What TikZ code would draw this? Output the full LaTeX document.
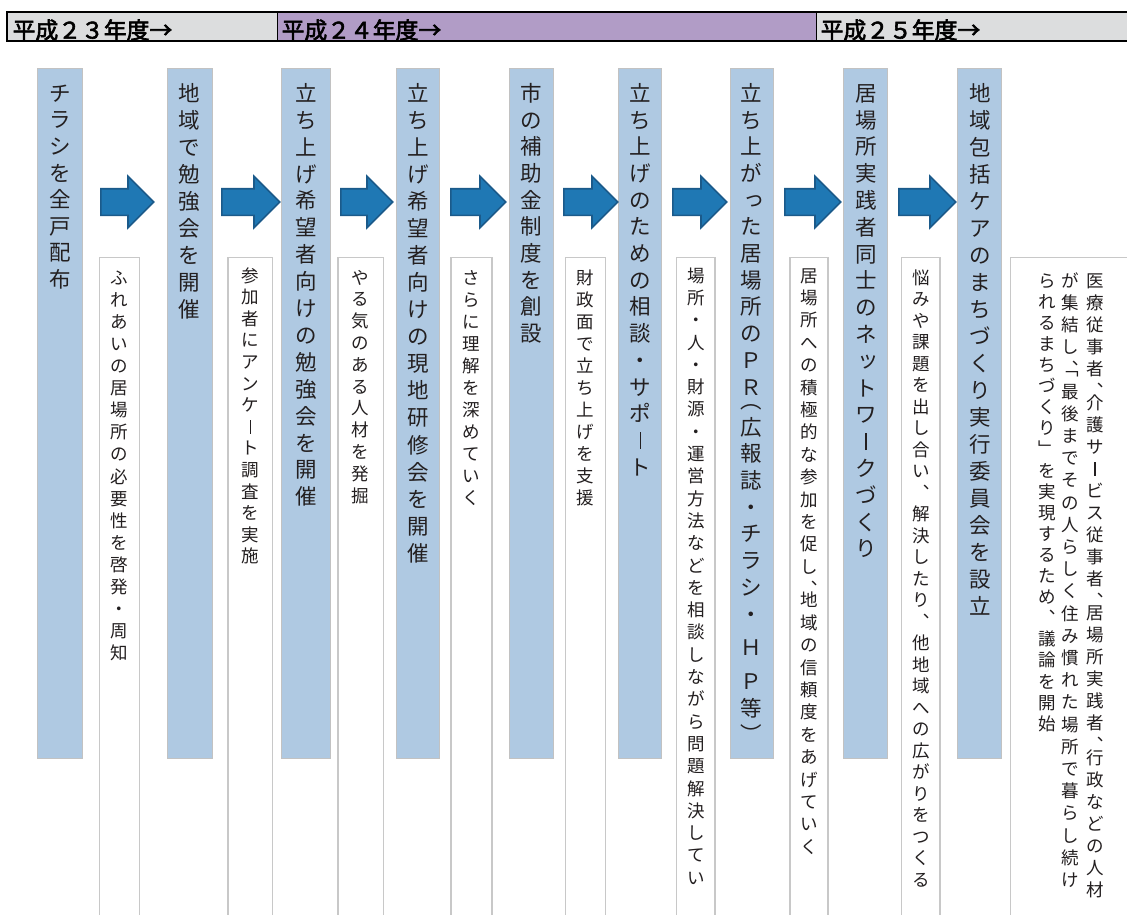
\documentclass[tikz,border=0pt]{standalone}
\usepackage{fontspec}
\usepackage{graphicx}
\usetikzlibrary{shapes.arrows}
\newfontfamily\jp{Noto Sans CJK JP}
\newfontfamily\jpb{Noto Sans CJK JP}[FakeBold=2.6]

\definecolor{bfill}{HTML}{AFC9E2}
\definecolor{bbord}{HTML}{C2C2C2}
\definecolor{wbord}{HTML}{C8C8C8}
\definecolor{ablue}{HTML}{1F78B4}
\definecolor{adark}{HTML}{1B5A8A}
\definecolor{hgray}{HTML}{DCDDDE}
\definecolor{hpurp}{HTML}{B19CC6}
\definecolor{tcol}{HTML}{231F20}

\newdimen\vtp \newdimen\vtw \newdimen\vxs \newdimen\vcs
\def\vtend{vtend}\def\hcm{hcm}\def\opp{opp}\def\xsp{xsp}
\def\cmbr{\rlap{︑}﹁}
\def\vbar{\rule[-0.02em]{0.07em}{0.8em}}
\def\stsu{\raisebox{0.1em}{\kern0.1em っ\kern-0.1em}}
\def\sTsu{\raisebox{0.1em}{\kern0.1em ッ\kern-0.1em}}
\def\vstrut{\vrule height.88em depth.12em width0pt\relax}
\def\vt#1#2{\vbox{\vtp=#1\relax\vtw=1.2em\relax\baselineskip=\vtp\lineskiplimit=-\maxdimen\lineskip=0pt\relax\vtA#2\vtend}}
\def\vtA#1{\ifx#1\vtend\else\vtput#1\expandafter\vtA\fi}
\def\vtput#1{%
  \ifx#1\hcm\hbox to\vtw{\hss\vstrut ︑\hss}\vskip-\vcs\relax
  \else\ifx#1\opp\vskip-0.5\vtp\relax\hbox to\vtw{\hss\vstrut ︵\hss}%
  \else\ifx#1\xsp\vskip\vxs\relax
  \else\hbox to\vtw{\hss\vstrut #1\hss}%
  \fi\fi\fi}

\tikzset{
  bluebox/.style={draw=bbord, fill=bfill, line width=1pt, inner sep=0pt, minimum height=690, anchor=north},
  whitebox/.style={draw=wbord, fill=white, line width=1.3pt, inner sep=0pt, minimum height=700, anchor=north},
  btext/.style={inner sep=0pt, anchor=north, text=tcol, font=\jp\fontsize{21.5}{26}\selectfont},
  wtext/.style={inner sep=0pt, anchor=north, text=tcol, font=\jp\fontsize{17.5}{22}\selectfont},
  arr/.style={single arrow, draw=adark, fill=ablue, line width=1.6pt, inner xsep=0pt, inner ysep=12.5pt,
    minimum width=50, single arrow head extend=12.5pt, single arrow tip angle=90, anchor=tail},
  hdrbox/.style={inner sep=0pt, anchor=north west, minimum height=29},
  hdrtext/.style={inner sep=0pt, anchor=base west, text=black, font=\jpb\fontsize{22.8}{25}\selectfont},
}

\begin{document}
\begin{tikzpicture}[x=1pt, y=-1pt]
\useasboundingbox (0,0) rectangle (1127,915);
\fill[white] (0,0) rectangle (1127,915);

% header
\node[hdrbox, fill=hgray, minimum width=270] (h1) at (7,12) {};
\node[hdrbox, fill=hpurp, minimum width=539] (h2) at (277,12) {};
\node[hdrbox, fill=hgray, minimum width=320] (h3) at (816,12) {};
\draw[line width=2pt] (h3.north east) -- (h1.north west) -- (h1.south west) -- (h3.south east);
\draw[line width=1.6pt] (h1.north east) -- (h1.south east);
\draw[line width=1.6pt] (h2.north east) -- (h2.south east);
\node[hdrtext] (ht1) at (12.5,38.6) {平成２３年度→};
\node[hdrtext] (ht2) at (281.5,38.6) {平成２４年度→};
\node[hdrtext] (ht3) at (820.5,38.6) {平成２５年度→};

% white description boxes
\node[whitebox, minimum width=40] (w1) at (119.3,257) {};
\node[whitebox, minimum width=44.7] (w2) at (250.3,257) {};
\node[whitebox, minimum width=45.3] (w3) at (360.7,257) {};
\node[whitebox, minimum width=41] (w4) at (471.5,257) {};
\node[whitebox, minimum width=40] (w5) at (585.7,257) {};
\node[whitebox, minimum width=38.3] (w6) at (695.8,257) {};
\node[whitebox, minimum width=38] (w7) at (809,257) {};
\node[whitebox, minimum width=38.3] (w8) at (920.8,257) {};
\node[whitebox, minimum width=140, anchor=north west] (w9) at (1010,257) {};

% blue step boxes
\node[bluebox, minimum width=44.6] (b1) at (60,68) {};
\node[bluebox, minimum width=44.7] (b2) at (189.7,68) {};
\node[bluebox, minimum width=48.3] (b3) at (305.9,68) {};
\node[bluebox, minimum width=43.3] (b4) at (418.3,68) {};
\node[bluebox, minimum width=44] (b5) at (531,68) {};
\node[bluebox, minimum width=43.3] (b6) at (640.3,68) {};
\node[bluebox, minimum width=43.3] (b7) at (751.7,68) {};
\node[bluebox, minimum width=43.7] (b8) at (865.8,68) {};
\node[bluebox, minimum width=43.7] (b9) at (979.8,68) {};

% blue texts
\node[btext] (t1) at (60,82.25) {\vt{26.6pt}{チラシを全戸配布}};
\node[btext] (t2) at (189.7,82.25) {\vt{27pt}{地域で勉強会を開催}};
\node[btext] (t3) at (305.9,82.25) {\vt{26.9pt}{立ち上げ希望者向けの勉強会を開催}};
\node[btext] (t4) at (418.3,82.25) {\vt{27.05pt}{立ち上げ希望者向けの現地研修会を開催}};
\node[btext] (t5) at (531,82.25) {\vt{26.7pt}{市の補助金制度を創設}};
\node[btext] (t6) at (640.3,82.25) {\vt{26.7pt}{立ち上げのための相談・サポ\vbar ト}};
\node[btext] (t7) at (751.7,82.25) {\vxs=7pt\vt{26.7pt}{立ち上が\stsu た居場所のＰＲ\opp 広報誌・チラシ・\xsp Ｈ\xsp Ｐ等︶}};
\node[btext] (t8) at (865.8,82.25) {\vt{26.8pt}{居場所実践者同士のネ\sTsu トワ\vbar クづくり}};
\node[btext] (t9) at (979.8,82.25) {\vt{27pt}{地域包括ケアのまちづくり実行委員会を設立}};

% white texts
\node[wtext] (d1) at (119.3,268.5) {\vt{22.1pt}{ふれあいの居場所の必要性を啓発・周知}};
\node[wtext] (d2) at (250.3,266.5) {\vt{21.6pt}{参加者にアンケ\vbar ト調査を実施}};
\node[wtext] (d3) at (360.7,268.5) {\vt{21.8pt}{やる気のある人材を発掘}};
\node[wtext] (d4) at (471.5,268.5) {\vt{22pt}{さらに理解を深めていく}};
\node[wtext] (d5) at (585.7,268.5) {\vt{22pt}{財政面で立ち上げを支援}};
\node[wtext] (d6) at (695.8,266.5) {\vt{22.3pt}{場所・人・財源・運営方法などを相談しながら問題解決してい}};
\node[wtext] (d7) at (809,266.5) {\vcs=11.2pt\vt{22.4pt}{居場所への積極的な参加を促し\hcm 地域の信頼度をあげていく}};
\node[wtext] (d8) at (920.8,268.5) {\vt{21.5pt}{悩みや課題を出し合い︑解決したり︑他地域への広がりをつくる}};
\node[wtext] (c1) at (1095,271.5) {\vcs=9.7pt\vt{22pt}{医療従事者\hcm 介護サ\vbar ビス従事者\hcm 居場所実践者\hcm 行政などの人材}};
\node[wtext] (c2) at (1070,271.5) {\vt{22.2pt}{が集結し\cmbr 最後までその人らしく住み慣れた場所で暮らし続け}};
\node[wtext] (c3) at (1047,271.5) {\vt{21.1pt}{られるまちづくり﹂を実現するため︑議論を開始}};

% arrows
\node[arr, minimum height=53] (a1) at (100,202) {};
\node[arr, minimum height=58] (a2) at (221,202) {};
\node[arr, minimum height=52] (a3) at (340,202) {};
\node[arr, minimum height=55] (a4) at (450,202) {};
\node[arr, minimum height=54] (a5) at (563,202) {};
\node[arr, minimum height=54] (a6) at (672,202) {};
\node[arr, minimum height=56] (a7) at (784,202) {};
\node[arr, minimum height=57] (a8) at (898,202) {};
\end{tikzpicture}
\end{document}
